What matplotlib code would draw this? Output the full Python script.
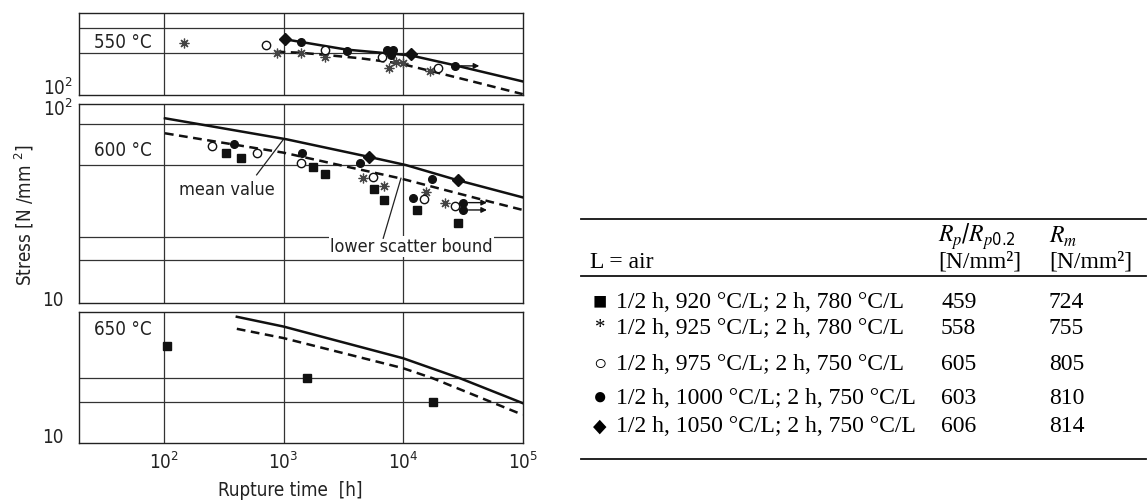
import matplotlib
matplotlib.use('Agg')
import matplotlib.pyplot as plt
from matplotlib import font_manager
from matplotlib.lines import Line2D

W, H = 1148, 504

# ---- data (rupture time [h], stress [N/mm2]) ----
# 550 C
t550_ast = [148, 875, 1390, 2218, 7650, 8710, 9900, 16750]
s550_ast = [183, 163, 162, 155, 136, 147, 145, 132]
t550_open = [708, 2218, 6610, 19650]
s550_open = [178, 169, 156, 137]
t550_fill = [1390, 3375, 7275, 8170, 7860, 27100]
s550_fill = [184, 167, 169, 169, 159, 140]
t550_dia = [1028, 11620]
s550_dia = [191, 160]
t550_runout = [27100]
s550_runout = [140]
t550_mean = [1000, 3375, 11620, 27100, 100000]
s550_mean = [191, 169, 158, 141, 117]
t550_low = [875, 1390, 2218, 4355, 9400, 17860, 33950, 100000]
s550_low = [165, 163, 159, 153, 144, 131, 119, 101]

# 600 C
t600_sq = [330, 437, 1770, 2218, 5700, 6950, 12970, 28900]
s600_sq = [56.6, 53.8, 48.4, 44.6, 37.4, 33.0, 29.4, 25.2]
t600_ast = [4645, 6950, 15530, 22340]
s600_ast = [42.7, 38.8, 36.3, 31.8]
t600_open = [250, 596, 1390, 5560, 15000, 27100]
s600_open = [61.5, 56.6, 50.4, 43.2, 33.3, 30.6]
t600_fill = [385, 1416, 4355, 17300, 12130, 31400, 31400]
s600_fill = [63.0, 56.6, 50.4, 42.1, 33.7, 32.0, 29.4]
t600_dia = [5175, 28580]
s600_dia = [54.4, 41.6]
t600_runout = [31400, 31400]
s600_runout = [32.0, 29.4]
t600_mean = [102, 1061, 5100, 10540, 28000, 100000]
s600_mean = [84.8, 66.5, 54.4, 49.4, 41.6, 34.0]
t600_low = [102, 1000, 3590, 9400, 46800, 100000]
s600_low = [71.3, 57.0, 48.1, 42.4, 33.0, 29.4]

# 650 C
t650_sq = [106, 1560, 17660]
s650_sq = [30.8, 21.2, 16.2]
t650_mean = [407, 1000, 10000, 29850, 100000]
s650_mean = [43.1, 38.5, 26.7, 21.2, 15.9]
t650_low = [407, 1000, 10000, 17660, 100000]
s650_low = [37.5, 33.7, 23.8, 21.2, 13.9]

# table
table_symbols = ['■', '*', '○', '●', '◆']
table_treatments = ['1/2 h, 920 °C/L; 2 h, 780 °C/L',
                    '1/2 h, 925 °C/L; 2 h, 780 °C/L',
                    '1/2 h, 975 °C/L; 2 h, 750 °C/L',
                    '1/2 h, 1000 °C/L; 2 h, 750 °C/L',
                    '1/2 h, 1050 °C/L; 2 h, 750 °C/L']
table_rp = [459, 558, 605, 603, 606]
table_rm = [724, 755, 805, 810, 814]

# ---- fonts ----
names = {f.name for f in font_manager.fontManager.ttflist}
narrow = next((n for n in ['Liberation Sans Narrow', 'DejaVu Sans Condensed'] if n in names), None)
plt.rcParams['font.family'] = [narrow or 'DejaVu Sans', 'DejaVu Sans']
plt.rcParams['font.stretch'] = 'condensed'
plt.rcParams['mathtext.default'] = 'regular'
SERIF = ['Liberation Serif', 'DejaVu Serif', 'DejaVu Sans']
FS = 13.5
NOTE_FS = 13
GRID = '#333333'


def fig_box(x0, y0, x1, y1):
    return [x0 / W, 1 - y1 / H, (x1 - x0) / W, (y1 - y0) / H]


fig = plt.figure(figsize=(W / 100, H / 100), dpi=100)
ax_top = fig.add_axes(fig_box(79, 12.7, 522.7, 95))
ax_mid = fig.add_axes(fig_box(79, 104, 522.7, 303.3))
ax_bot = fig.add_axes(fig_box(79, 311.7, 522.7, 443.3))

panels = [
    (ax_top, (100, 259), [162, 216], '550 °C', 0.632),
    (ax_mid, (10, 100), [16.5, 21.6, 49.4, 79.1], '600 °C', 0.769),
    (ax_bot, (10, 45.7), [16.1, 21.2], '650 °C', 0.861),
]
for ax, ylim, hgrid, label, ly in panels:
    ax.set_xscale('log')
    ax.set_yscale('log')
    ax.set_xlim(19.5, 1e5)
    ax.set_ylim(*ylim)
    ax.set_xticks([])
    ax.set_yticks([])
    ax.minorticks_off()
    for v in [1e2, 1e3, 1e4]:
        ax.axvline(v, color=GRID, lw=0.9, zorder=1)
    for v in hgrid:
        ax.axhline(v, color=GRID, lw=0.9, zorder=1)
    for sp in ax.spines.values():
        sp.set_color('#222222')
        sp.set_linewidth(1.0)
    ax.text(0.034, ly, label, transform=ax.transAxes, fontsize=FS,
            ha='left', va='center', color='#222222')


def ylabel_at(ax, value, text, dx, dy, va='center'):
    ax.annotate(text, xy=(0, value), xycoords=('axes fraction', 'data'),
                xytext=(dx, dy), textcoords='offset points',
                ha='right', va=va, fontsize=FS, color='#222222',
                annotation_clip=False)


ylabel_at(ax_top, 100, '$10^2$', -4.5, 5)
ylabel_at(ax_mid, 100, '$10^2$', -4.5, -4)
ylabel_at(ax_mid, 10, '10', -11, 2)
ylabel_at(ax_bot, 10, '10', -11, 4)

ax_bot.set_xticks([1e2, 1e3, 1e4, 1e5], ['$10^2$', '$10^3$', '$10^4$', '$10^5$'])
ax_bot.tick_params(axis='x', length=0, pad=6, labelsize=FS, labelcolor='#222222')
ax_bot.minorticks_off()

mean_kw = dict(color='#111111', lw=1.8, zorder=3)
low_kw = dict(color='#111111', lw=1.8, ls=(0, (3.5, 2.2)), zorder=3)
sq_kw = dict(ls='none', marker='s', ms=5.5, color='#111111', zorder=5)
ast_kw = dict(ls='none', marker=(8, 2, 0), ms=7, mew=0.9, color='#444444', zorder=5)
open_kw = dict(ls='none', marker='o', ms=6, mfc='white', mec='#111111', mew=1.0, zorder=5)
fill_kw = dict(ls='none', marker='o', ms=5.5, color='#111111', zorder=5)
dia_kw = dict(ls='none', marker='D', ms=6, color='#111111', zorder=5)


def runouts(ax, ts, ss):
    for t, s in zip(ts, ss):
        ax.annotate('', xy=(t * 1.6, s), xytext=(t * 1.12, s),
                    arrowprops=dict(arrowstyle='-|>', color='#111111', lw=1.0,
                                    mutation_scale=8, shrinkA=0, shrinkB=0),
                    zorder=4)


# 550 C
ax_top.plot(t550_mean, s550_mean, **mean_kw)
ax_top.plot(t550_low, s550_low, **low_kw)
ax_top.plot(t550_ast, s550_ast, **ast_kw)
ax_top.plot(t550_open, s550_open, **open_kw)
ax_top.plot(t550_fill, s550_fill, **fill_kw)
ax_top.plot(t550_dia, s550_dia, **dia_kw)
runouts(ax_top, t550_runout, s550_runout)

# 600 C
ax_mid.plot(t600_mean, s600_mean, **mean_kw)
ax_mid.plot(t600_low, s600_low, **low_kw)
ax_mid.plot(t600_sq, s600_sq, **sq_kw)
ax_mid.plot(t600_ast, s600_ast, **ast_kw)
ax_mid.plot(t600_open, s600_open, **open_kw)
ax_mid.plot(t600_fill, s600_fill, **fill_kw)
ax_mid.plot(t600_dia, s600_dia, **dia_kw)
runouts(ax_mid, t600_runout, s600_runout)

ax_mid.text(0.225, 0.568, 'mean value', transform=ax_mid.transAxes, fontsize=NOTE_FS,
            ha='left', va='center', color='#222222')
ax_mid.plot([596, 988], [44.1, 65.9], color='#222222', lw=0.9, zorder=4)
ax_mid.text(0.566, 0.284, 'lower scatter bound', transform=ax_mid.transAxes,
            fontsize=NOTE_FS, ha='left', va='center', color='#222222', zorder=6,
            bbox=dict(facecolor='white', edgecolor='none', pad=1.0))
ax_mid.plot([6820, 9600], [21.2, 42.4], color='#222222', lw=0.9, zorder=7)

# 650 C
ax_bot.plot(t650_mean, s650_mean, **mean_kw)
ax_bot.plot(t650_low, s650_low, **low_kw)
ax_bot.plot(t650_sq, s650_sq, **sq_kw)

fig.text(290 / W, 1 - 490 / H, 'Rupture time  [h]', fontsize=FS, ha='center',
         va='center', color='#222222')
fig.text(24 / W, 1 - 215 / H, 'Stress [N /mm $^{2}$]', fontsize=FS, ha='center',
         va='center', rotation=90, color='#222222')

# ---- table ----
def hrule(y, lw=1.3):
    fig.add_artist(Line2D([580.6 / W, 1146 / W], [1 - y / H] * 2,
                          transform=fig.transFigure, color='#111111', lw=lw))


TFS = 17
hrule(219.3)
hrule(276)
hrule(459)
fig.text(590 / W, 1 - 263 / H, 'L = air', fontsize=TFS, family=SERIF,
         ha='left', va='center')
fig.text(938 / W, 1 - 236.7 / H, r'$\mathit{R}_{\mathit{p}}/\mathit{R}_{\mathit{p}0.2}$',
         fontsize=TFS, math_fontfamily='stix', ha='left', va='center')
fig.text(1049 / W, 1 - 236.7 / H, r'$\mathit{R}_{\mathit{m}}$',
         fontsize=TFS, math_fontfamily='stix', ha='left', va='center')
fig.text(938 / W, 1 - 261.7 / H, '[N/mm²]', fontsize=TFS, family=SERIF,
         ha='left', va='center')
fig.text(1049 / W, 1 - 261.7 / H, '[N/mm²]', fontsize=TFS, family=SERIF,
         ha='left', va='center')

rows_y = [302.7, 328.3, 365, 398, 427]
sym_size = [17, 15, 16, 17, 14]
for y, sym, ss, txt, rp, rm in zip(rows_y, table_symbols, sym_size,
                                   table_treatments, table_rp, table_rm):
    fig.text(600 / W, 1 - y / H, sym, fontsize=ss, family=SERIF,
             ha='center', va='center')
    fig.text(616 / W, 1 - y / H, txt, fontsize=TFS, family=SERIF,
             ha='left', va='center')
    fig.text(941 / W, 1 - y / H, str(rp), fontsize=TFS, family=SERIF,
             ha='left', va='center')
    fig.text(1049 / W, 1 - y / H, str(rm), fontsize=TFS, family=SERIF,
             ha='left', va='center')

fig.savefig('out.png', dpi=100)
